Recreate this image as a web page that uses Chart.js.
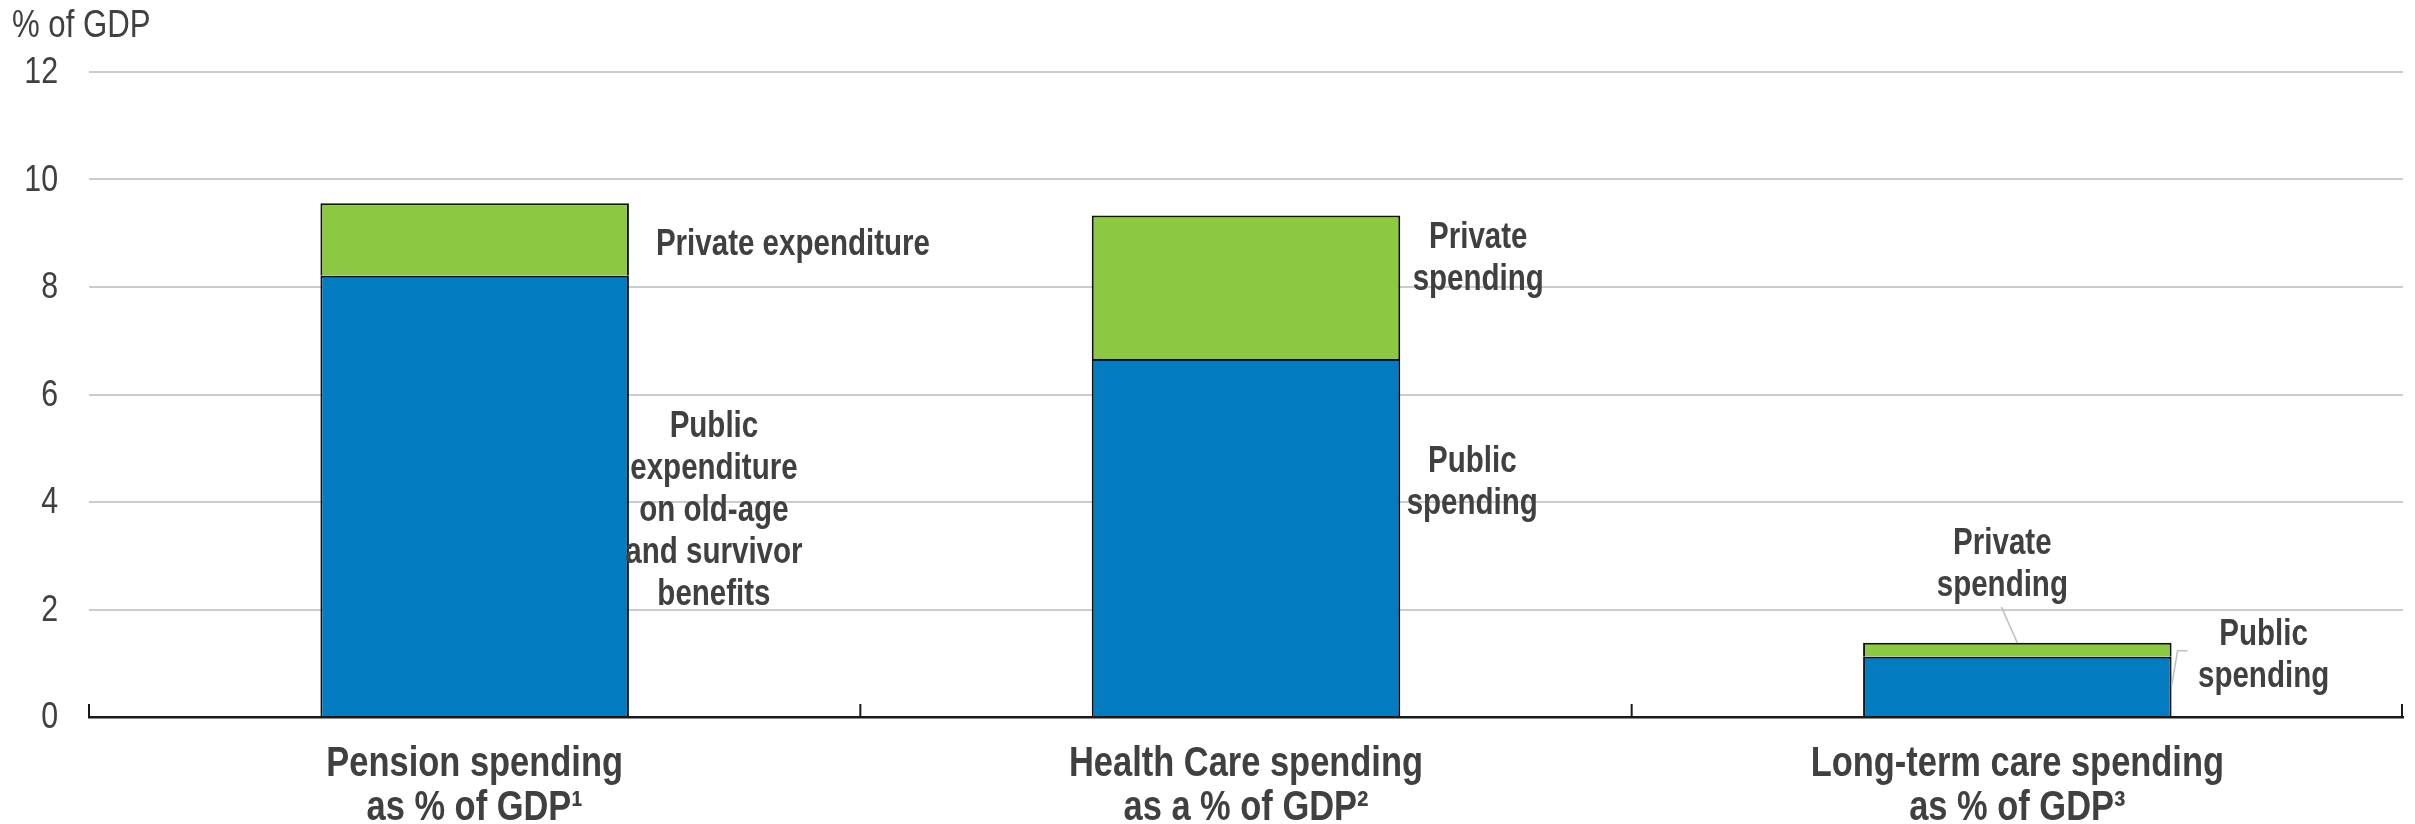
<!DOCTYPE html>
<html>
<head>
<meta charset="utf-8">
<script src="https://cdn.jsdelivr.net/npm/chart.js@4/dist/chart.umd.min.js"></script>
<style>
    html, body { margin: 0; padding: 0; background: #ffffff; }
    #wrap { width: 2415px; height: 824px; position: relative; }
</style>
</head>
<body>
<div id="wrap"><canvas id="spendChart"></canvas></div>
<script>
// ====== DATA ======
const categories = [
    ["Pension spending", "as % of GDP\u00B9"],
    ["Health Care spending", "as a % of GDP\u00B2"],
    ["Long-term care spending", "as % of GDP\u00B3"]
];
const publicSpending = [8.21, 6.66, 1.12];
const privateSpending = [1.35, 2.67, 0.26];
const yMin = 0;
const yMax = 12;
const yStep = 2;
const unitLabel = "% of GDP";

// annotation texts (one entry per bar)
const privateNotes = [["Private expenditure"], ["Private", "spending"], ["Private", "spending"]];
const publicNotes = [["Public", "expenditure", "on old-age", "and survivor", "benefits"], ["Public", "spending"], ["Public", "spending"]];

const FONT = '"Liberation Sans", Arial, sans-serif';
const TEXT = "#404040";
const NARROW = 0.82; // no narrow font installed, squeeze Liberation Sans instead

function narrowText(ctx, txt, x, y, align) {
    ctx.save();
    ctx.translate(x, y);
    ctx.scale(NARROW, 1);
    ctx.textAlign = align;
    ctx.fillText(txt, 0, 0);
    ctx.restore();
}

// draws unit label, tick labels, small axis ticks, bar annotations
const extrasPlugin = {
    id: "extras",
    afterDraw(chart) {
        const ctx = chart.ctx;
        const x = chart.scales.x;
        const y = chart.scales.y;
        const area = chart.chartArea;

        ctx.save();
        ctx.fillStyle = TEXT;
        ctx.textBaseline = "middle";

        // unit label
        ctx.font = "38px " + FONT;
        narrowText(ctx, unitLabel, 12, 27, "left");

        // y tick labels
        ctx.font = "37px " + FONT;
        y.ticks.forEach(t => {
            narrowText(ctx, String(t.value), area.left - 31, y.getPixelForValue(t.value) + 1, "right");
        });

        // x tick labels
        ctx.font = "bold 42px " + FONT;
        categories.forEach((lab, i) => {
            const cx = x.getPixelForValue(i);
            lab.forEach((t, k) => narrowText(ctx, t, cx, area.bottom + 47 + k * 44, "center"));
        });

        // small upward ticks at category boundaries
        ctx.strokeStyle = "#1a1a1a";
        ctx.lineWidth = 2;
        let bounds = [area.left];
        for (let i = 0; i < categories.length - 1; i++) {
            bounds.push((x.getPixelForValue(i) + x.getPixelForValue(i + 1)) / 2);
        }
        bounds.push(area.right - 1);
        bounds.forEach(bx => {
            ctx.beginPath();
            ctx.moveTo(bx, area.bottom);
            ctx.lineTo(bx, area.bottom - 13);
            ctx.stroke();
        });

        // annotations
        const meta = chart.getDatasetMeta(0);
        ctx.font = "bold 36px " + FONT;
        const lh = 42;

        function lines(arr, cx, firstY, align) {
            arr.forEach((t, k) => narrowText(ctx, t, cx, firstY + 3 + k * lh, align));
        }

        for (let i = 0; i < categories.length; i++) {
            const bar = meta.data[i];
            const right = bar.x + bar.width / 2;
            const pubTop = y.getPixelForValue(publicSpending[i]);
            const totTop = y.getPixelForValue(publicSpending[i] + privateSpending[i]);
            const pubMid = y.getPixelForValue(publicSpending[i] / 2);

            if (i === 0) {
                lines(privateNotes[i], right + 27, (pubTop + totTop) / 2 + 3, "left");
                lines(publicNotes[i], right + 85, pubMid + 12 - lh * 2, "center");
            } else if (i === 1) {
                lines(privateNotes[i], right + 78, totTop + 20, "center");
                lines(publicNotes[i], right + 72, pubMid - 58 - lh / 2, "center");
            } else {
                lines(privateNotes[i], bar.x - 15, totTop - 102, "center");
                lines(publicNotes[i], right + 92, pubTop - 25, "center");

                // leader lines
                ctx.strokeStyle = "#c0c0c0";
                ctx.lineWidth = 1.5;
                ctx.beginPath();
                ctx.moveTo(bar.x - 16, totTop - 36);
                ctx.lineTo(bar.x, totTop);
                ctx.stroke();
                ctx.beginPath();
                ctx.moveTo(right + 16, pubTop - 6);
                ctx.lineTo(right + 6, pubTop - 6);
                ctx.lineTo(right, pubTop + 29);
                ctx.stroke();
            }
        }
        ctx.restore();
    }
};

document.addEventListener("DOMContentLoaded", () => {
    const ctx = document.getElementById("spendChart").getContext("2d");

    new Chart(ctx, {
        type: "bar",
        data: {
            labels: categories,
            datasets: [
                {
                    label: "Public",
                    data: publicSpending,
                    backgroundColor: "#037BC1",
                    borderColor: "#111111",
                    borderWidth: 2,
                    barPercentage: 0.4,
                    categoryPercentage: 1
                },
                {
                    label: "Private",
                    data: privateSpending,
                    backgroundColor: "#8CC841",
                    borderColor: "#111111",
                    borderWidth: 2,
                    barPercentage: 0.4,
                    categoryPercentage: 1
                }
            ]
        },
        options: {
            responsive: true,
            maintainAspectRatio: false,
            animation: false,
            layout: { padding: { top: 72, right: 12, left: 0, bottom: 0 } },
            plugins: {
                legend: { display: false },
                tooltip: { enabled: false }
            },
            scales: {
                x: {
                    stacked: true,
                    grid: { display: false },
                    border: { display: true, color: "#1a1a1a", width: 2.5 },
                    ticks: { display: false },
                    afterFit(scale) { scale.height = 107; }
                },
                y: {
                    stacked: true,
                    min: yMin,
                    max: yMax,
                    grid: { color: "#cccccc", lineWidth: 2, drawTicks: false },
                    border: { display: false },
                    ticks: { display: false, stepSize: yStep },
                    afterFit(scale) { scale.width = 89; }
                }
            }
        },
        plugins: [extrasPlugin]
    });
});
</script>
</body>
</html>
